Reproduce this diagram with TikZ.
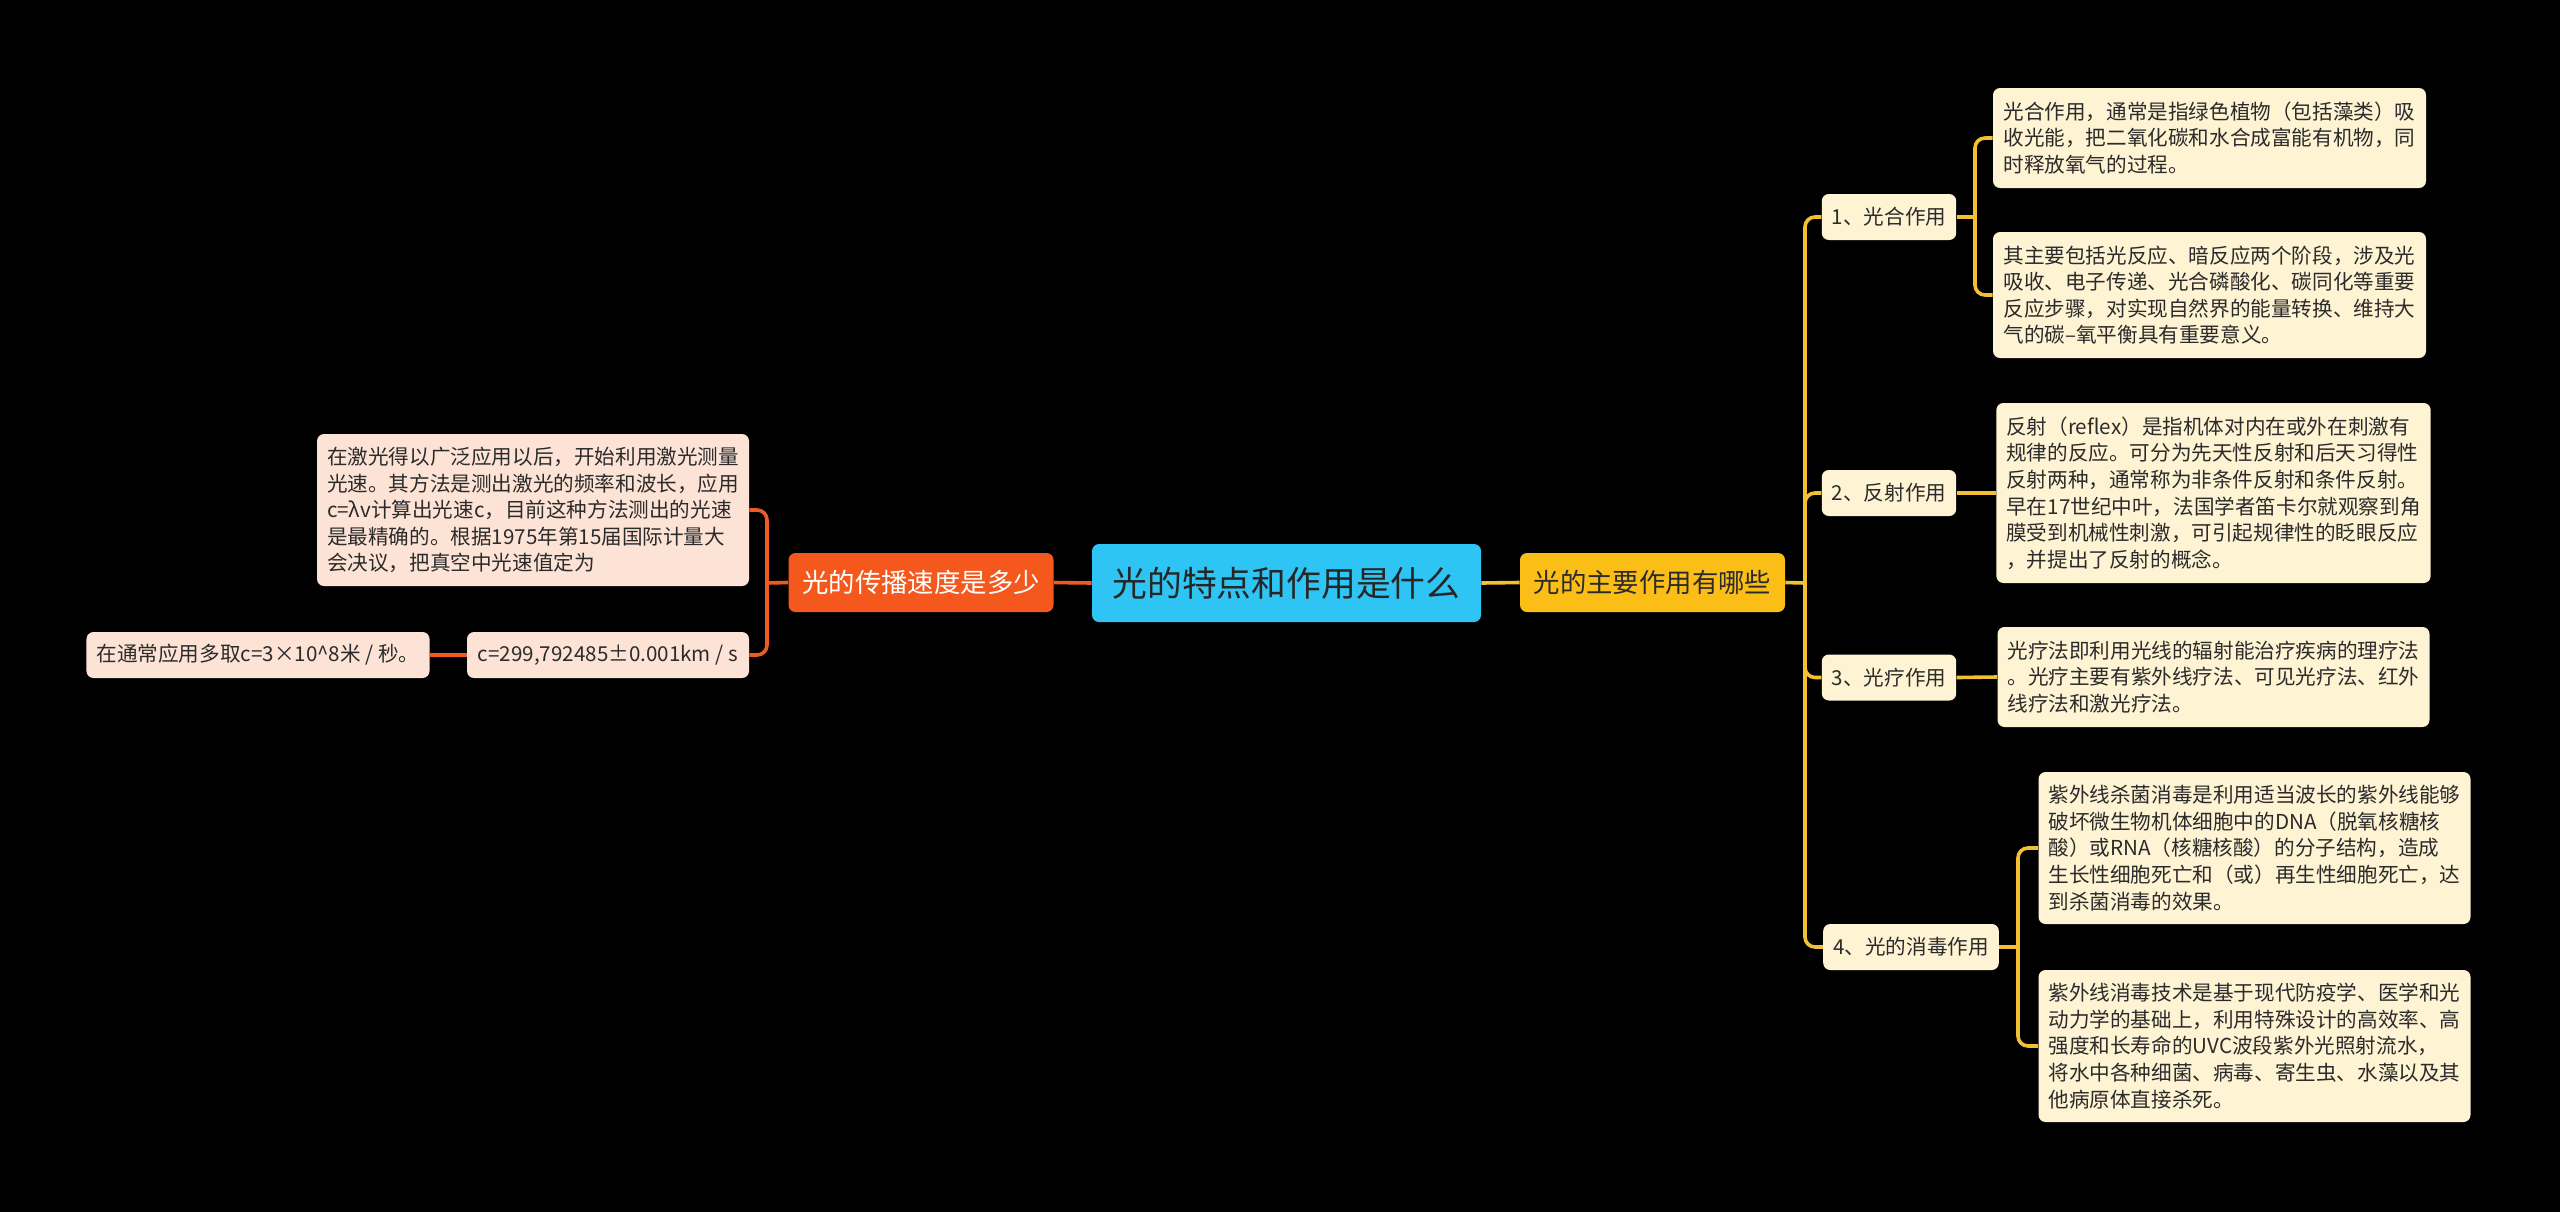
\documentclass[tikz,border=0pt]{standalone}
\usepackage{fontspec}
\setmainfont{Noto Sans CJK SC}
\usepackage{xcolor}
\usepackage{tikz}

\definecolor{rootblue}{HTML}{2EC4F3}
\definecolor{speedorange}{HTML}{F4581C}
\definecolor{useamber}{HTML}{FBBE17}
\definecolor{peach}{HTML}{FDE3D6}
\definecolor{cream}{HTML}{FEF3D3}
\definecolor{inkgray}{HTML}{2B2B2B}
\definecolor{lineorange}{HTML}{EE5A22}
\definecolor{lineamber}{HTML}{F2C035}

\begin{document}
\begin{tikzpicture}[x=0.5pt,y=-0.5pt,
  box/.style={rectangle, rounded corners=3.5pt, inner xsep=5pt, inner ysep=0pt, text=inkgray, align=left},
  root/.style={box, fill=rootblue, minimum width=194.5pt, minimum height=39pt, align=center,
    text=black!85, font=\fontsize{17.4pt}{20pt}\selectfont},
  branch/.style={box, minimum width=132.5pt, minimum height=29.5pt, align=center,
    font=\fontsize{13.2pt}{16pt}\selectfont},
  sub/.style={box, fill=cream, minimum height=23pt, font=\fontsize{10.3pt}{13.3pt}\selectfont},
  leafL/.style={box, fill=peach, font=\fontsize{10.3pt}{13.3pt}\selectfont},
  leafR/.style={box, fill=cream, font=\fontsize{10.3pt}{13.3pt}\selectfont},
  lineL/.style={draw=lineorange, line width=1.8pt, rounded corners=5pt},
  lineR/.style={draw=lineamber, line width=1.8pt, rounded corners=5pt}]

  % Background
  \useasboundingbox (0,0) rectangle (2560,1211);
  \fill[black] (-10,-10) rectangle (2570,1221);

  % Centre and the two main branches
  \node[root] (root) at (1286.5,583) {光的特点和作用是什么};
  \node[branch, fill=speedorange, text=white] (speed) at (921,582.5) {光的传播速度是多少};
  \node[branch, fill=useamber] (uses) at (1652.5,582.5) {光的主要作用有哪些};

  % Left side: speed of light
  \node[leafL, minimum width=216pt, minimum height=76pt] (laser) at (533,510)
    {在激光得以广泛应用以后，开始利用激光测量\\
     光速。其方法是测出激光的频率和波长，应用\\
     c=λv计算出光速c，目前这种方法测出的光速\\
     是最精确的。根据1975年第15届国际计量大\\
     会决议，把真空中光速值定为};
  \node[leafL, minimum width=141pt, minimum height=23pt] (value) at (608,655)
    {c=299,792485±0.001km / s};
  \node[leafL, minimum width=170pt, minimum height=23pt] (usual) at (258,655)
    {在通常应用多取c=3×10\textasciicircum8米 / 秒。};

  % Right side: the four uses
  \node[sub] (photo) at (1889,217) {1、光合作用};
  \node[sub] (reflex) at (1889,493) {2、反射作用};
  \node[sub] (therapy) at (1889,677.5) {3、光疗作用};
  \node[sub] (disinf) at (1911,947) {4、光的消毒作用};

  \node[leafR, minimum width=216.5pt, minimum height=50pt] (photoA) at (2209.5,138)
    {光合作用，通常是指绿色植物（包括藻类）吸\\
     收光能，把二氧化碳和水合成富能有机物，同\\
     时释放氧气的过程。};
  \node[leafR, minimum width=216.5pt, minimum height=63pt] (photoB) at (2209.5,295)
    {其主要包括光反应、暗反应两个阶段，涉及光\\
     吸收、电子传递、光合磷酸化、碳同化等重要\\
     反应步骤，对实现自然界的能量转换、维持大\\
     气的碳–氧平衡具有重要意义。};
  \node[leafR, minimum width=215.5pt, minimum height=90pt] (reflexA) at (2213.5,493)
    {反射（reflex）是指机体对内在或外在刺激有\\
     规律的反应。可分为先天性反射和后天习得性\\
     反射两种，通常称为非条件反射和条件反射。\\
     早在17世纪中叶，法国学者笛卡尔就观察到角\\
     膜受到机械性刺激，可引起规律性的眨眼反应\\
     ，并提出了反射的概念。};
  \node[leafR, minimum width=215.5pt, minimum height=50pt] (therapyA) at (2213.5,677)
    {光疗法即利用光线的辐射能治疗疾病的理疗法\\
     。光疗主要有紫外线疗法、可见光疗法、红外\\
     线疗法和激光疗法。};
  \node[leafR, minimum width=215.5pt, minimum height=76pt] (disinfA) at (2254.5,848)
    {紫外线杀菌消毒是利用适当波长的紫外线能够\\
     破坏微生物机体细胞中的DNA（脱氧核糖核\\
     酸）或RNA（核糖核酸）的分子结构，造成\\
     生长性细胞死亡和（或）再生性细胞死亡，达\\
     到杀菌消毒的效果。};
  \node[leafR, minimum width=215.5pt, minimum height=76pt] (disinfB) at (2254.5,1046)
    {紫外线消毒技术是基于现代防疫学、医学和光\\
     动力学的基础上，利用特殊设计的高效率、高\\
     强度和长寿命的UVC波段紫外光照射流水，\\
     将水中各种细菌、病毒、寄生虫、水藻以及其\\
     他病原体直接杀死。};

  % Joints of the connectors
  \coordinate (jl) at (767,583);
  \coordinate (jr) at (1805,583);
  \coordinate (jp) at (1975,217);
  \coordinate (jd) at (2018,947);

  % Left connectors
  \draw[lineL] (root.west) -- (speed.east);
  \draw[lineL] (speed.west) -- (jl);
  \draw[lineL] (jl) |- (laser.east);
  \draw[lineL] (jl) |- (value.east);
  \draw[lineL] (value.west) -- (usual.east);

  % Right connectors
  \draw[lineR] (root.east) -- (uses.west);
  \draw[lineR] (uses.east) -- (jr);
  \foreach \s in {photo,reflex,therapy,disinf}
    \draw[lineR] (jr) |- (\s.west);
  \draw[lineR] (photo.east) -- (jp);
  \draw[lineR] (jp) |- (photoA.west);
  \draw[lineR] (jp) |- (photoB.west);
  \draw[lineR] (reflex.east) -- (reflexA.west);
  \draw[lineR] (therapy.east) -- (therapyA.west);
  \draw[lineR] (disinf.east) -- (jd);
  \draw[lineR] (jd) |- (disinfA.west);
  \draw[lineR] (jd) |- (disinfB.west);
\end{tikzpicture}
\end{document}
